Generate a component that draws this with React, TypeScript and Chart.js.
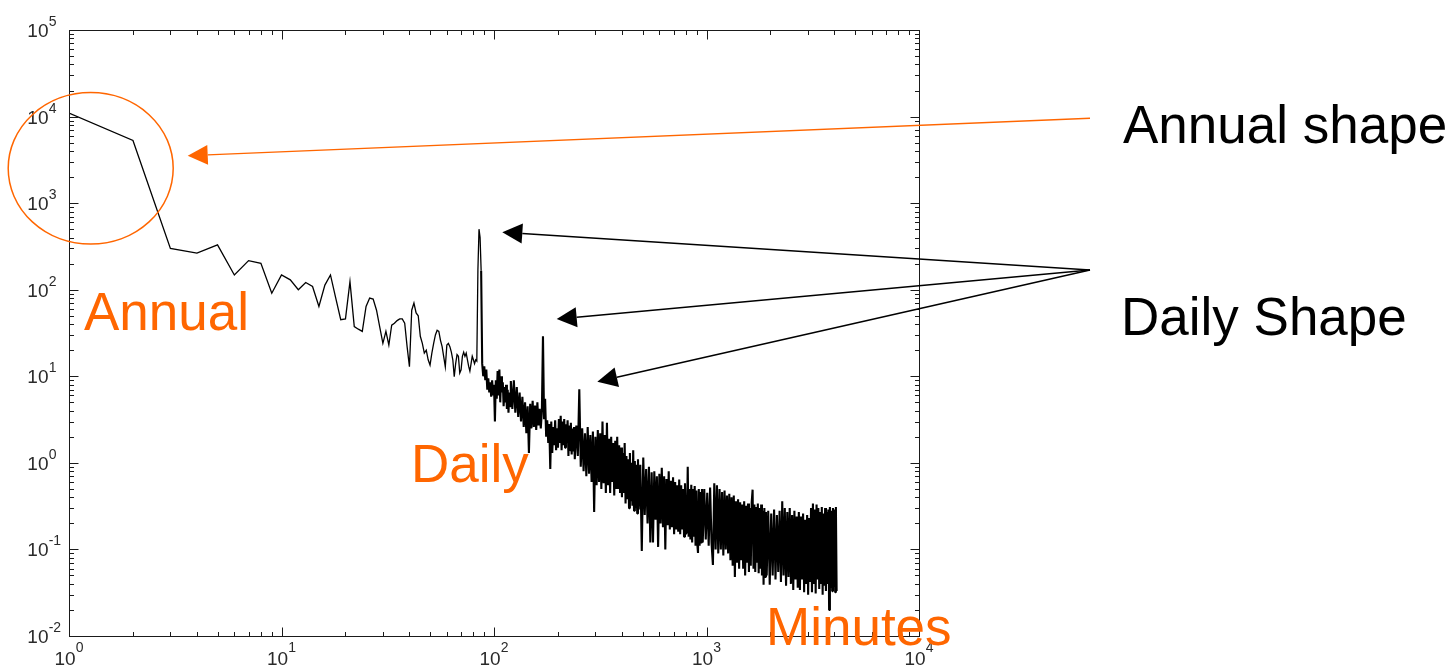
import React, { useEffect, useRef } from 'react';
import { Chart, registerables } from 'chart.js';

Chart.register(...registerables);

// ---------------- data ----------------
// low-frequency part, one value per frequency bin
const lowFreq = [
  1, 2, 3, 4, 5, 6, 7, 8, 9, 10,
  11, 12, 13, 14, 15, 16, 17, 18, 19, 20,
  21, 22, 23, 24, 25, 26, 27, 28, 29, 30,
  31, 32, 33, 34, 35, 36, 37, 38, 39, 40,
  41, 42, 43, 44, 45, 46, 47, 48, 49, 50,
  51, 52, 53, 54, 55, 56, 57, 58, 59, 60,
  61, 62, 63, 64, 65, 66, 67, 68, 69, 70,
  71, 72, 73, 74, 75, 76, 77, 78, 79, 80,
  81, 82, 83, 84, 85, 86, 87,
];
const lowPower = [
  11000, 5300, 300, 265, 330, 148, 217, 202, 91, 148,
  130, 100, 121, 109, 64, 113, 148, 80, 45, 46,
  124, 37.5, 35, 33, 64, 80, 78, 58, 37, 24,
  33, 23, 39, 41, 44, 46, 46, 41, 22, 12.9,
  58, 70, 54, 50, 29, 24, 18.5, 20, 15.5, 13.5,
  18.5, 24, 30, 34, 33, 26, 22, 16.8, 12.9, 23,
  24, 22, 19, 15.5, 9.9, 14, 17.8, 17, 10.9, 11.9,
  17, 19, 17, 18.5, 15.5, 13, 11.5, 14, 17, 15.5,
  14, 15.5, 15, 170, 500, 400, 165,
];

// noisy band, sampled bins
const bandFreqA = [
  88, 89, 90, 91, 92, 93, 94, 95, 96, 97,
  98, 99, 100, 101, 102, 103, 104, 105, 106, 107,
  108, 109, 110, 111, 112, 113, 114, 115, 116, 117,
  118, 119,
];
const bandPowerA = [
  14, 10, 13, 9, 12, 7, 9.5, 6.5, 8.5, 5.8,
  9, 6, 8, 3.0, 9, 5.5, 11.5, 6, 12, 5,
  10, 6.5, 8.5, 4.5, 7.5, 5, 8, 4.2, 7, 3.8,
  6.5, 4.5,
];

const bandFreqB = [
  120, 122, 124, 126, 128, 130, 132, 134, 136, 138,
  140, 142, 144, 146, 148, 150, 152, 154, 156, 158,
  160, 162, 164, 166, 168, 170, 172, 174, 176, 178,
  180, 182, 184, 186, 188, 190, 192, 194, 196, 198,
  200, 202, 204, 206, 208, 210, 212, 214, 216, 218,
  220, 222, 224, 226, 228, 230, 232, 234, 236, 238,
];
const bandPowerB = [
  8.8, 4.2, 9, 3.8, 7.5, 3.4, 6.5, 3, 5.8, 2.6,
  5, 2.2, 4.5, 1.3, 4.8, 2.5, 5.2, 2.6, 4.6, 2.4,
  5, 2.7, 4.2, 2.5, 4, 29, 3.2, 5.5, 2, 3.1,
  1.7, 2.8, 0.85, 3, 1.3, 2.6, 1.6, 3.1, 1.4, 2.5,
  1.5, 3.2, 1.7, 3.5, 1.4, 3.0, 1.6, 3.2, 1.5, 2.8,
  1.7, 3.1, 1.2, 2.7, 1.4, 2.9, 1.25, 2.5, 1.35, 2.6,
];

const bandFreqC = [
  240, 244, 248, 252, 256, 260, 264, 268, 272, 276,
  280, 284, 288, 292, 296, 300, 304, 308, 312, 316,
  320, 324, 328, 332, 336, 340, 344, 348, 352, 356,
  360, 364, 368, 372, 376, 380, 384, 388, 392, 396,
  400, 404, 408, 412, 416, 420, 424, 428, 432, 436,
  440, 444, 448, 452, 456, 460, 464, 468, 472, 476,
];
const bandPowerC = [
  1.1, 2.7, 1.2, 7.1, 0.9, 2.5, 0.8, 2.2, 0.7, 2.6,
  0.75, 2.1, 0.6, 2.3, 0.27, 2.0, 0.55, 2.4, 0.6, 2.2,
  0.5, 3.0, 0.58, 2.1, 0.45, 2.9, 0.55, 1.9, 0.45, 2.0,
  0.6, 1.7, 0.42, 1.8, 0.5, 2.0, 0.5, 1.6, 0.45, 1.5,
  0.4, 1.3, 0.45, 1.7, 0.34, 1.2, 0.38, 1.1, 0.3, 1.3,
  0.36, 1.0, 0.32, 1.4, 0.28, 1.05, 0.3, 0.95, 0.26, 1.1,
];

const bandFreqD = [
  480, 488, 496, 504, 512, 520, 528, 536, 544, 552,
  560, 568, 576, 584, 592, 600, 608, 616, 624, 632,
  640, 648, 656, 664, 672, 680, 688, 696, 704, 712,
  720, 728, 736, 744, 752, 760, 768, 776, 784, 792,
  800, 808, 816, 824, 832, 840, 848, 856, 864, 872,
  880, 888, 896, 904, 912, 920, 928, 936, 944, 952,
];
const bandPowerD = [
  0.29, 0.95, 0.096, 1.15, 0.25, 0.85, 0.2, 0.9, 0.12, 0.78,
  0.12, 0.8, 0.22, 0.7, 0.107, 0.75, 0.2, 0.88, 0.18, 0.7,
  0.1, 0.65, 0.19, 0.8, 0.17, 0.62, 0.18, 0.68, 0.15, 0.6,
  0.17, 0.55, 0.16, 0.64, 0.15, 0.55, 0.17, 0.5, 0.14, 0.58,
  0.15, 0.16, 0.9, 0.14, 0.5, 0.13, 0.56, 0.12, 0.5, 0.14,
  0.54, 0.11, 0.48, 0.12, 0.091, 0.5, 0.11, 0.46, 0.12, 0.5,
];

const bandFreqE = [
  960, 976, 992, 1008, 1024, 1040, 1056, 1072, 1088, 1104,
  1120, 1136, 1152, 1168, 1184, 1200, 1216, 1232, 1248, 1264,
  1280, 1296, 1312, 1328, 1344, 1360, 1376, 1392, 1408, 1424,
  1440, 1456, 1472, 1488, 1504, 1520, 1536, 1552, 1568, 1584,
  1600, 1616, 1632, 1648, 1664, 1680, 1696, 1712, 1728, 1744,
  1760, 1776, 1792, 1808, 1824, 1840, 1856, 1872, 1888, 1904,
];
const bandPowerE = [
  0.12, 0.5, 0.13, 0.45, 0.11, 0.52, 0.12, 0.066, 0.58, 0.1,
  0.55, 0.09, 0.5, 0.1, 0.46, 0.085, 0.48, 0.1, 0.42, 0.09,
  0.44, 0.075, 0.4, 0.065, 0.42, 0.048, 0.36, 0.07, 0.38, 0.06,
  0.35, 0.075, 0.33, 0.06, 0.36, 0.05, 0.32, 0.07, 0.34, 0.055,
  0.3, 0.065, 0.35, 0.49, 0.06, 0.33, 0.055, 0.31, 0.07, 0.34,
  0.053, 0.3, 0.06, 0.33, 0.05, 0.28, 0.039, 0.3, 0.048, 0.27,
];

const bandFreqF = [
  1920, 1952, 1984, 2016, 2048, 2080, 2112, 2144, 2176, 2208,
  2240, 2272, 2304, 2336, 2368, 2400, 2432, 2464, 2496, 2528,
  2560, 2592, 2624, 2656, 2688, 2720, 2752, 2784, 2816, 2848,
  2880, 2912, 2944, 2976, 3008, 3040, 3072, 3104, 3136, 3168,
  3200, 3232, 3264, 3296, 3328, 3360, 3392, 3424, 3456, 3488,
  3520, 3552, 3584, 3616, 3648, 3680, 3712, 3744, 3776, 3808,
  3840, 3872, 3904, 3936, 3968, 4000, 4032, 4064, 4096,
];
const bandPowerF = [
  0.05, 0.28, 0.039, 0.26, 0.05, 0.29, 0.045, 0.25, 0.055, 0.28,
  0.042, 0.36, 0.05, 0.3, 0.038, 0.27, 0.048, 0.3, 0.04, 0.25,
  0.034, 0.28, 0.045, 0.24, 0.036, 0.27, 0.034, 0.24, 0.045, 0.26,
  0.032, 0.22, 0.04, 0.25, 0.03, 0.23, 0.042, 0.3, 0.032, 0.34,
  0.04, 0.29, 0.031, 0.33, 0.045, 0.3, 0.035, 0.27, 0.04, 0.31,
  0.03, 0.26, 0.038, 0.3, 0.033, 0.27, 0.04, 0.29, 0.02, 0.31,
  0.036, 0.28, 0.033, 0.3, 0.037, 0.29, 0.032, 0.31, 0.033,
];

// axis decades (exponents) and minor multipliers
const xExponents = [0, 1, 2, 3, 4];
const yExponents = [-2, -1, 0, 1, 2, 3, 4, 5];
const minorSteps = [2, 3, 4, 5, 6, 7, 8, 9];

// annotation texts
const annualShapeLabel = 'Annual shape';
const dailyShapeLabel = 'Daily Shape';
const annualLabel = 'Annual';
const dailyLabel = 'Daily';
const minutesLabel = 'Minutes';

// ---------------- layout / style ----------------
const CANVAS_W = 1454;
const CANVAS_H = 671;
const ORANGE = '#FF6600';
const AXIS_COLOR = '#1a1a1a';
const TICK_TEXT_COLOR = '#2a2a2a';
const MAJOR_TICK = 9;
const MINOR_TICK = 4.5;
const FONT_FAMILY = '"Liberation Sans", Arial, Helvetica, sans-serif';
const BASE_FONT = `19px ${FONT_FAMILY}`;
const SUP_FONT = `14px ${FONT_FAMILY}`;
const BIG_FONT = `53px ${FONT_FAMILY}`;

function toPoints(segments: [number[], number[]][]) {
  const pts: { x: number; y: number }[] = [];
  for (const [f, p] of segments) {
    const n = Math.min(f.length, p.length);
    for (let i = 0; i < n; i++) pts.push({ x: f[i], y: p[i] });
  }
  return pts;
}

function drawArrow(
  ctx: CanvasRenderingContext2D,
  x1: number, y1: number, x2: number, y2: number,
  color: string, width: number
) {
  const ang = Math.atan2(y2 - y1, x2 - x1);
  const headLen = 20;
  const headHalf = 10;
  const bx = x2 - headLen * Math.cos(ang);
  const by = y2 - headLen * Math.sin(ang);
  ctx.strokeStyle = color;
  ctx.lineWidth = width;
  ctx.beginPath();
  ctx.moveTo(x1, y1);
  ctx.lineTo(bx, by);
  ctx.stroke();
  ctx.fillStyle = color;
  ctx.beginPath();
  ctx.moveTo(x2, y2);
  ctx.lineTo(bx + headHalf * Math.sin(ang), by - headHalf * Math.cos(ang));
  ctx.lineTo(bx - headHalf * Math.sin(ang), by + headHalf * Math.cos(ang));
  ctx.closePath();
  ctx.fill();
}

const framePlugin = {
  id: 'matlabFrame',
  afterDraw(chart: any) {
    const ctx: CanvasRenderingContext2D = chart.ctx;
    const xs = chart.scales.x;
    const ys = chart.scales.y;
    const { left, right, top, bottom } = chart.chartArea;
    const L = Math.round(left) + 0.5;
    const R = Math.round(right) + 0.5;
    const T = Math.round(top) + 0.5;
    const B = Math.round(bottom) + 0.5;
    ctx.save();
    // box
    ctx.strokeStyle = AXIS_COLOR;
    ctx.lineWidth = 1;
    ctx.strokeRect(L, T, R - L, B - T);
    // ticks
    ctx.beginPath();
    const xTick = (v: number, len: number) => {
      const px = Math.round(xs.getPixelForValue(v)) + 0.5;
      ctx.moveTo(px, B); ctx.lineTo(px, B - len);
      ctx.moveTo(px, T); ctx.lineTo(px, T + len);
    };
    const yTick = (v: number, len: number) => {
      const py = Math.round(ys.getPixelForValue(v)) + 0.5;
      ctx.moveTo(L, py); ctx.lineTo(L + len, py);
      ctx.moveTo(R, py); ctx.lineTo(R - len, py);
    };
    xExponents.forEach((e, i) => {
      xTick(Math.pow(10, e), MAJOR_TICK);
      if (i < xExponents.length - 1) minorSteps.forEach((m) => xTick(m * Math.pow(10, e), MINOR_TICK));
    });
    yExponents.forEach((e, i) => {
      yTick(Math.pow(10, e), MAJOR_TICK);
      if (i < yExponents.length - 1) minorSteps.forEach((m) => yTick(m * Math.pow(10, e), MINOR_TICK));
    });
    ctx.stroke();

    // tick labels "10^e"
    ctx.fillStyle = TICK_TEXT_COLOR;
    ctx.textBaseline = 'alphabetic';
    xExponents.forEach((e) => {
      const px = xs.getPixelForValue(Math.pow(10, e));
      const sup = String(e);
      ctx.font = BASE_FONT;
      const wb = ctx.measureText('10').width;
      ctx.font = SUP_FONT;
      const ws = ctx.measureText(sup).width;
      const start = px - (wb + ws) / 2;
      ctx.textAlign = 'left';
      ctx.font = BASE_FONT;
      ctx.fillText('10', start, bottom + 29);
      ctx.font = SUP_FONT;
      ctx.fillText(sup, start + wb, bottom + 15.5);
    });
    yExponents.forEach((e) => {
      const py = ys.getPixelForValue(Math.pow(10, e));
      ctx.font = BASE_FONT;
      ctx.textAlign = 'right';
      ctx.fillText('10', left - 20.5, py + 7);
      ctx.font = SUP_FONT;
      ctx.textAlign = 'left';
      ctx.fillText(String(e), left - 20.3, py - 4);
    });

    // annotations
    ctx.lineCap = 'butt';
    ctx.strokeStyle = ORANGE;
    ctx.lineWidth = 1.5;
    ctx.beginPath();
    ctx.ellipse(90.7, 168.3, 82.5, 75.8, 0, 0, Math.PI * 2);
    ctx.stroke();
    drawArrow(ctx, 1090, 118.3, 187.7, 155.7, ORANGE, 1.4);
    drawArrow(ctx, 1090, 270, 502.3, 232.3, '#000', 1.5);
    drawArrow(ctx, 1090, 270, 556.7, 319, '#000', 1.5);
    drawArrow(ctx, 1090, 270, 597.3, 381.7, '#000', 1.5);

    ctx.font = BIG_FONT;
    ctx.textAlign = 'left';
    ctx.textBaseline = 'alphabetic';
    ctx.fillStyle = '#000';
    ctx.fillText(annualShapeLabel, 1123, 143.3);
    ctx.fillText(dailyShapeLabel, 1121, 335);
    ctx.fillStyle = ORANGE;
    ctx.fillText(annualLabel, 84, 330);
    ctx.fillText(dailyLabel, 411, 482);
    ctx.fillText(minutesLabel, 766, 645);
    ctx.restore();
  },
};

export default function App() {
  const canvasRef = useRef<HTMLCanvasElement | null>(null);

  useEffect(() => {
    const canvas = canvasRef.current;
    if (!canvas) return;
    const lowPoints = toPoints([[lowFreq, lowPower]]);
    // the band continues from the last low-frequency bin so the trace stays connected
    const bandPoints = [lowPoints[lowPoints.length - 1]].concat(
      toPoints([
        [bandFreqA, bandPowerA],
        [bandFreqB, bandPowerB],
        [bandFreqC, bandPowerC],
        [bandFreqD, bandPowerD],
        [bandFreqE, bandPowerE],
        [bandFreqF, bandPowerF],
      ])
    );
    const chart = new Chart(canvas, {
      type: 'line',
      data: {
        datasets: [
          {
            data: lowPoints,
            borderColor: '#000',
            borderWidth: 1.3,
            pointRadius: 0,
            pointHoverRadius: 0,
            tension: 0,
            fill: false,
          },
          {
            data: bandPoints,
            borderColor: '#000',
            borderWidth: 2.1,
            borderJoinStyle: 'bevel',
            pointRadius: 0,
            pointHoverRadius: 0,
            tension: 0,
            fill: false,
          },
        ],
      },
      options: {
        animation: false,
        responsive: false,
        devicePixelRatio: 1,
        events: [],
        layout: { padding: { left: 69, top: 30, right: CANVAS_W - 919, bottom: CANVAS_H - 636 } },
        scales: {
          x: { type: 'logarithmic', min: 1, max: 10000, display: false },
          y: { type: 'logarithmic', min: 0.01, max: 100000, display: false },
        },
        plugins: {
          legend: { display: false },
          tooltip: { enabled: false },
          title: { display: false },
        },
      },
      plugins: [framePlugin],
    } as any);
    return () => chart.destroy();
  }, []);

  return (
    <div style={{ position: 'absolute', left: 0, top: 0, width: CANVAS_W, height: CANVAS_H, background: '#fff' }}>
      <canvas ref={canvasRef} width={CANVAS_W} height={CANVAS_H} style={{ display: 'block', width: CANVAS_W, height: CANVAS_H }} />
    </div>
  );
}
